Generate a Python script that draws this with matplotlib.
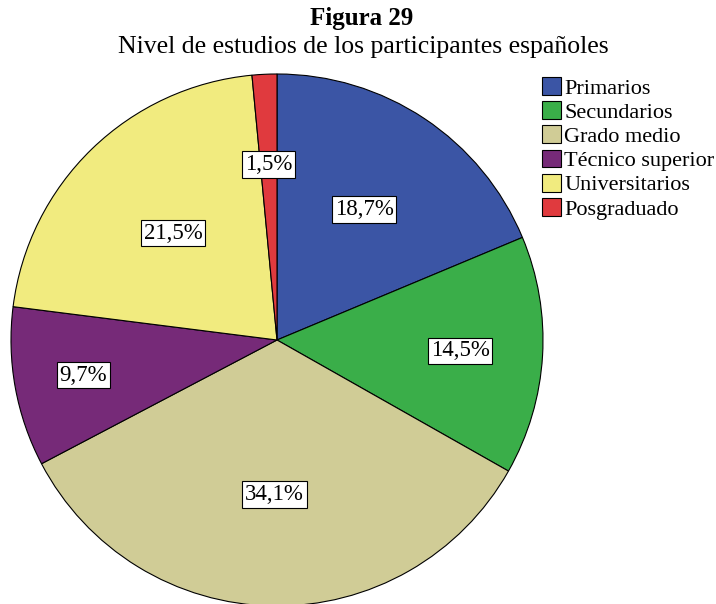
import matplotlib.pyplot as plt
import numpy as np

plt.rcParams['font.family'] = ['Liberation Serif', 'DejaVu Serif']

categories = ['Primarios', 'Secundarios', 'Grado medio', 'Técnico superior',
              'Universitarios', 'Posgraduado']
values = [18.7, 14.5, 34.1, 9.7, 21.5, 1.5]
labels = ['18,7%', '14,5%', '34,1%', '9,7%', '21,5%', '1,5%']
colors = ['#3B55A5', '#3AAE49', '#D0CC96', '#762A78', '#F1EB7F', '#E03A3E']
# radial position of each label (fraction of radius)
label_r = [0.59, 0.69, 0.58, 0.74, 0.56, 0.66]

W, H = 716, 604
fig = plt.figure(figsize=(W / 100, H / 100), dpi=100)

cx, cy, R = 277, 340, 266
ax = fig.add_axes([(cx - R) / W, (H - cy - R) / H, 2 * R / W, 2 * R / H])
wedges, _ = ax.pie(values, colors=colors, startangle=90, counterclock=False,
                   radius=1.0,
                   wedgeprops=dict(edgecolor='black', linewidth=0.8))
ax.set_xlim(-1, 1)
ax.set_ylim(-1, 1)
ax.set_aspect('equal')
ax.axis('off')
for w in wedges:
    w.set_clip_on(False)

for w, lab, r in zip(wedges, labels, label_r):
    ang = np.deg2rad((w.theta1 + w.theta2) / 2)
    ax.text(r * np.cos(ang), r * np.sin(ang), lab, ha='center', va='center',
            fontsize=16.5,
            bbox=dict(boxstyle='square,pad=0.12', fc='white', ec='black', lw=0.8))

fig.text(362 / W, 1 - 19 / H, 'Figura 29', ha='center', va='center',
         fontsize=18, fontweight='bold')
fig.text(363 / W, 1 - 47 / H, 'Nivel de estudios de los participantes españoles',
         ha='center', va='center', fontsize=18.5)

leg = fig.legend(wedges, categories, loc='upper left',
                 bbox_to_anchor=(542 / W, 1 - 77 / H), frameon=False,
                 fontsize=16, handlelength=0.85, handleheight=0.85,
                 handletextpad=0.15, labelspacing=0.12, borderpad=0,
                 borderaxespad=0)

fig.savefig('out.png', dpi=100)
